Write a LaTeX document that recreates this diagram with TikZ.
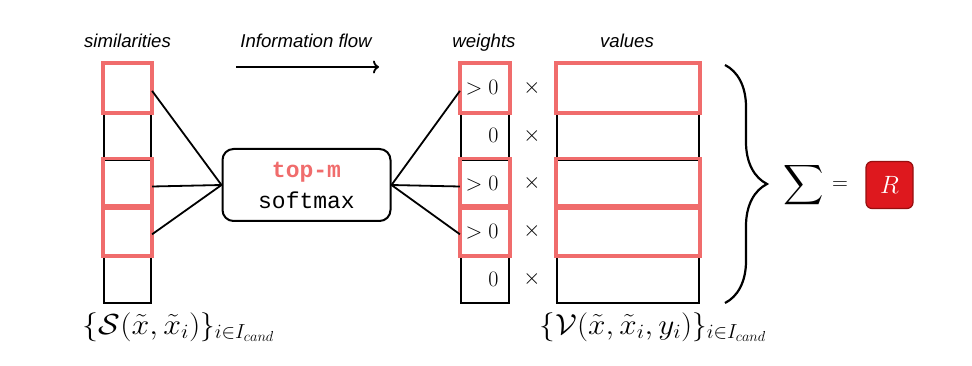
\RequirePackage{fix-cm}
\documentclass[tikz,border=0pt]{standalone}
\usepackage{graphicx}
\usepackage{fontspec}
\DeclareFontShape{OMX}{cmex}{m}{n}{<-> cmex10}{}
\newfontfamily\labelfont{Liberation Sans}
\newfontfamily\codefont{Liberation Mono}
\usetikzlibrary{decorations.pathreplacing,arrows.meta}
\definecolor{hl}{RGB}{240,108,108}
\definecolor{rfill}{RGB}{222,24,30}
\definecolor{rdraw}{RGB}{150,15,15}
\begin{document}
\begin{tikzpicture}[x=1pt,y=-1pt,
  cellbox/.style={draw=black, line width=2.2pt, inner sep=0pt, minimum height=47.8pt},
  hlline/.style={draw=hl, line width=3.8pt},
  conn/.style={draw=black, line width=1.8pt},
  caption/.style={font=\labelfont\itshape\fontsize{18.6}{20}\selectfont, anchor=base},
  mathlbl/.style={font=\fontsize{22}{26}\selectfont},
  biglbl/.style={font=\fontsize{29}{32}\selectfont},
  wtext/.style={text width=32pt, align=right}]
\useasboundingbox (0,0) rectangle (972,366);
% captions
\node[caption] (capS) at (127.5,48) {similarities};
\node[caption] (capI) at (306,48) {Information flow};
\node[caption] (capW) at (484,48) {weights};
\node[caption] (capV) at (627,48) {values};
\coordinate (fa) at (236,67);
\coordinate (fb) at (379,67);
\draw[line width=1.8pt, -{To[length=6pt,width=13pt]}] (fa) -- (fb);
% columns
\foreach \i in {1,...,5}{
  \node[cellbox, minimum width=47pt] (s\i) at (127.5,{64+47.8*(\i-0.5)}) {};
  \node[cellbox, minimum width=48pt, wtext, mathlbl] (w\i) at (485,{64+47.8*(\i-0.5)}) {};
  \node[cellbox, minimum width=142pt] (v\i) at (628,{64+47.8*(\i-0.5)}) {};
  \node[mathlbl] (t\i) at (532,{64+47.8*(\i-0.5)}) {$\times$};
}
\foreach \i/\t in {1/{>0},2/{0},3/{>0},4/{>0},5/{0}}{
  \node[mathlbl, anchor=east] (wt\i) at ([xshift=-8pt]w\i.east) {$\t$};
}
% highlights
\foreach \i in {1,3,4}{
  \draw[hlline] (s\i.north west) rectangle (s\i.south east);
  \draw[hlline] (w\i.north west) rectangle (w\i.south east);
  \draw[hlline] (v\i.north west) rectangle (v\i.south east);
}
% softmax box
\node[draw, line width=2pt, rounded corners=11pt, minimum width=168pt, minimum height=72pt,
      align=center, font=\codefont\fontsize{23}{31}\selectfont] (sm) at (306.5,185)
      {\textcolor{hl}{\bfseries top-m}\\softmax};
\foreach \i in {1,3,4}{
  \draw[conn] ([yshift=-3pt]s\i.east) -- (sm.west);
  \draw[conn] (sm.east) -- ([yshift=-3pt]w\i.west);
}
% brace
\coordinate (bt) at (725,65);
\coordinate (bb) at (725,303);
\draw[line width=2.2pt, decorate, decoration={brace, amplitude=42pt}] (bt) -- (bb);
\node[biglbl] (sum) at (803.5,185) {\fontsize{28}{32}\selectfont$\displaystyle\sum$};
\node[mathlbl] (eq) at (840,186) {$=$};
\node[draw=rdraw, fill=rfill, line width=1.2pt, rounded corners=6pt, minimum size=47pt,
      inner sep=0pt, text=white, font=\fontsize{25}{28}\selectfont] (res) at (889.5,185) {$R$};
% bottom labels
\node[biglbl, anchor=base] (lblS) at (178.5,334)
  {$\scalebox{1.1}[1]{$\{\mathcal{S}(\tilde{x},\tilde{x}_i)$}\}_{i\in I_{cand}}$};
\node[biglbl, anchor=base] (lblV) at (653,334)
  {$\scalebox{1.08}[1]{$\{\mathcal{V}(\tilde{x},\tilde{x}_i,y_i)$}\}_{i\in I_{cand}}$};
\end{tikzpicture}
\end{document}
